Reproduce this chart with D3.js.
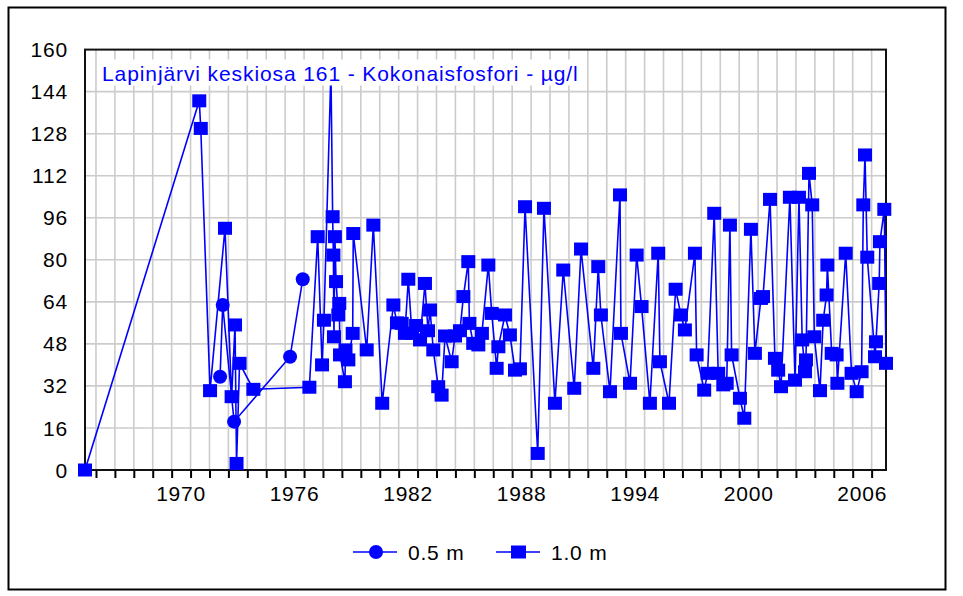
<!DOCTYPE html>
<html>
<head>
<meta charset="utf-8">
<script src="https://cdn.jsdelivr.net/npm/d3@7"></script>
<style>
  body { margin: 0; background: #fff; }
  svg { display: block; }
  text { font-family: "Liberation Sans", Arial, sans-serif; }
</style>
</head>
<body>
<svg id="chart"></svg>
<script>
const title = "Lapinjärvi keskiosa 161 - Kokonaisfosfori - µg/l";
const seriesNames = ["0.5 m", "1.0 m"];
const yTicks = [0, 16, 32, 48, 64, 80, 96, 112, 128, 144, 160];
const xLabelYears = [1970, 1976, 1982, 1988, 1994, 2000, 2006];
const firstYear = 1965.42;
const lastYear = 2007.76;

// 0.5 m depth (only a few samples in the 70s)
const dates05 = [1972.56, 1972.70, 1973.30, 1976.26, 1976.93];
const values05 = [35.5, 62.8, 18.4, 43.1, 72.6];

// 1.0 m depth, decimal years
const dates10 = [
  1965.42, 1971.46, 1971.54, 1972.03, 1972.82, 1973.17, 1973.35, 1973.43, 1973.59, 1974.32,
  1977.28, 1977.72, 1977.95, 1978.05, 1978.42, 1978.51, 1978.55, 1978.58, 1978.63, 1978.69,
  1978.81, 1978.86, 1978.90, 1979.16, 1979.19, 1979.34, 1979.57, 1979.60, 1980.31, 1980.66,
  1981.13, 1981.72, 1981.91, 1982.16, 1982.33, 1982.51, 1982.70, 1982.92, 1983.13, 1983.39,
  1983.55, 1983.66, 1983.83, 1984.09, 1984.27, 1984.45, 1984.80, 1984.98, 1985.24, 1985.42,
  1985.68, 1985.74, 1985.94, 1986.21, 1986.40, 1986.74, 1986.92, 1987.18, 1987.27, 1987.62,
  1987.88, 1988.15, 1988.41, 1988.68, 1989.35, 1989.68, 1990.26, 1990.70, 1991.28, 1991.64,
  1992.29, 1992.55, 1992.69, 1993.17, 1993.70, 1993.75, 1994.23, 1994.58, 1994.84, 1995.28,
  1995.72, 1995.81, 1996.29, 1996.64, 1996.92, 1997.13, 1997.66, 1997.75, 1998.15, 1998.33,
  1998.68, 1998.89, 1999.16, 1999.34, 1999.51, 1999.60, 2000.04, 2000.27, 2000.62, 2000.83,
  2001.15, 2001.26, 2001.63, 2001.89, 2002.06, 2002.21, 2002.68, 2002.95, 2003.16, 2003.33,
  2003.48, 2003.53, 2003.69, 2003.86, 2003.97, 2004.27, 2004.44, 2004.62, 2004.66, 2004.89,
  2005.15, 2005.19, 2005.63, 2005.94, 2006.21, 2006.47, 2006.56, 2006.65, 2006.77, 2007.18,
  2007.23, 2007.40, 2007.44, 2007.67, 2007.76
];
const values10 = [
  0, 140.5, 130, 30.2, 92, 27.9, 55.2, 2.5, 40.6, 30.7,
  31.5, 88.8, 40, 57, 152, 96.4, 81.8, 50.7, 88.8, 71.7,
  59, 63.4, 43.8, 33.6, 45.7, 41.9, 52, 90, 45.7, 93.2,
  25.4, 62.8, 56, 55.8, 52, 72.6, 52, 55, 49.5, 71,
  53, 60.9, 45.7, 31.7, 28.5, 51, 41.2, 51, 53, 66,
  79.3, 55.8, 48.2, 47.6, 52, 78, 59.6, 38.7, 46.9, 59,
  51.4, 38, 38.5, 100.2, 6.3, 99.6, 25.4, 76.1, 31.1, 84.1,
  38.7, 77.4, 59, 29.8, 104.7, 52, 33, 81.8, 62.2, 25.4,
  82.5, 41.2, 25.4, 68.8, 59, 53.3, 82.5, 43.8, 30.4, 36.8,
  97.7, 36.8, 32.4, 33, 93.2, 43.8, 27.3, 19.7, 91.6, 44.4,
  65.3, 66, 103, 42.5, 38, 31.7, 103.8, 34.2, 103.8, 49.5,
  37.4, 41.9, 112.9, 100.9, 50.7, 30.2, 57, 66.6, 78, 44.4,
  43.8, 33, 82.5, 36.8, 29.8, 37.4, 100.9, 119.9, 81, 43.1,
  48.8, 71, 86.9, 99.2, 40.6
];

const width = 963;
const height = 596;
const plot = { left: 85, right: 886, top: 49.6, bottom: 470 };
const blue = "#0000ff";
const fontSize = "21px";
const spacing = "0.8px";

const svg = d3.select("#chart").attr("width", width).attr("height", height);

// outer frame
svg.append("rect")
  .attr("x", 8.5).attr("y", 7.5)
  .attr("width", 937).attr("height", 582)
  .attr("fill", "#fff")
  .attr("stroke", "#000")
  .attr("stroke-width", 2);

const x = d3.scaleLinear().domain([firstYear, lastYear]).range([plot.left, plot.right]);
const y = d3.scaleLinear().domain([0, 160]).range([plot.bottom, plot.top]);

svg.append("defs").append("clipPath").attr("id", "plotClip")
  .append("rect")
  .attr("x", plot.left).attr("y", plot.top)
  .attr("width", plot.right - plot.left).attr("height", plot.bottom - plot.top);

// grid
const yearTicks = d3.range(Math.ceil(firstYear), Math.floor(lastYear) + 1);
const grid = svg.append("g");
grid.selectAll(".vgrid").data(yearTicks).join("line")
  .attr("x1", (d) => x(d)).attr("x2", (d) => x(d))
  .attr("y1", plot.top).attr("y2", plot.bottom)
  .attr("stroke", "#cccccc").attr("stroke-width", 1.6);
grid.selectAll(".hgrid").data(yTicks.slice(1, -1)).join("line")
  .attr("x1", plot.left).attr("x2", plot.right)
  .attr("y1", (d) => y(d)).attr("y2", (d) => y(d))
  .attr("stroke", "#cccccc").attr("stroke-width", 1.6);

// x axis: a tick for every year, labels centred in the year
const xAxis = d3.axisBottom(x).tickValues(yearTicks).tickSize(8).tickFormat("");
svg.append("g")
  .attr("transform", `translate(0,${plot.bottom})`)
  .call(xAxis)
  .call((g) => g.select(".domain").remove())
  .call((g) => g.selectAll("line").attr("stroke", "#000").attr("stroke-width", 2));

svg.append("g").selectAll("text").data(xLabelYears).join("text")
  .attr("x", (d) => x(d + 0.5))
  .attr("y", 501)
  .attr("text-anchor", "middle")
  .style("font-size", fontSize)
  .style("letter-spacing", spacing)
  .attr("fill", "#000")
  .text((d) => d);

// y labels
svg.append("g").selectAll("text").data(yTicks).join("text")
  .attr("x", 68)
  .attr("y", (d) => y(d))
  .attr("dy", "0.36em")
  .attr("text-anchor", "end")
  .style("font-size", fontSize)
  .style("letter-spacing", spacing)
  .attr("fill", "#000")
  .text((d) => d);

// plot border
svg.append("rect")
  .attr("x", plot.left).attr("y", plot.top)
  .attr("width", plot.right - plot.left).attr("height", plot.bottom - plot.top)
  .attr("fill", "none")
  .attr("stroke", "#111")
  .attr("stroke-width", 2);

const data05 = dates05.map((d, i) => ({ t: d, v: values05[i] }));
const data10 = dates10.map((d, i) => ({ t: d, v: values10[i] }));

const line = d3.line().x((d) => x(d.t)).y((d) => y(d.v));

const series = svg.append("g");
[data10, data05].forEach((data) => {
  series.append("path")
    .datum(data)
    .attr("clip-path", "url(#plotClip)")
    .attr("fill", "none")
    .attr("stroke", blue)
    .attr("stroke-width", 1.6)
    .attr("d", line);
});

series.selectAll(".sq").data(data10).join("rect")
  .attr("x", (d) => x(d.t) - 7)
  .attr("y", (d) => y(d.v) - 6.5)
  .attr("width", 14).attr("height", 13)
  .attr("fill", blue);

series.selectAll(".dot").data(data05).join("circle")
  .attr("cx", (d) => x(d.t))
  .attr("cy", (d) => y(d.v))
  .attr("r", 7)
  .attr("fill", blue);

// title with an opaque background, drawn over the series
const titleG = svg.append("g");
const titleText = titleG.append("text")
  .attr("x", 102).attr("y", 80.5)
  .attr("fill", blue)
  .style("font-size", fontSize)
  .style("letter-spacing", "0.9px")
  .text(title);
const tb = titleText.node().getBBox();
titleG.insert("rect", "text")
  .attr("x", tb.x - 4).attr("y", tb.y - 2)
  .attr("width", tb.width + 8).attr("height", tb.height + 3)
  .attr("fill", "#fff");

// legend
const legend = svg.append("g").attr("transform", "translate(0,552)");
const lg = [
  { name: seriesNames[0], x0: 353, shape: "circle" },
  { name: seriesNames[1], x0: 496, shape: "square" },
];
lg.forEach((d) => {
  legend.append("line")
    .attr("x1", d.x0).attr("x2", d.x0 + 44)
    .attr("y1", 0).attr("y2", 0)
    .attr("stroke", blue).attr("stroke-width", 1.6);
  if (d.shape === "circle") {
    legend.append("circle").attr("cx", d.x0 + 23).attr("cy", 0).attr("r", 7).attr("fill", blue);
  } else {
    legend.append("rect").attr("x", d.x0 + 15).attr("y", -6.5).attr("width", 15).attr("height", 13).attr("fill", blue);
  }
  legend.append("text")
    .attr("x", d.x0 + 55)
    .attr("y", 0)
    .attr("dy", "0.36em")
    .style("font-size", fontSize)
    .style("letter-spacing", spacing)
    .attr("fill", "#000")
    .text(d.name);
});
</script>
</body>
</html>
